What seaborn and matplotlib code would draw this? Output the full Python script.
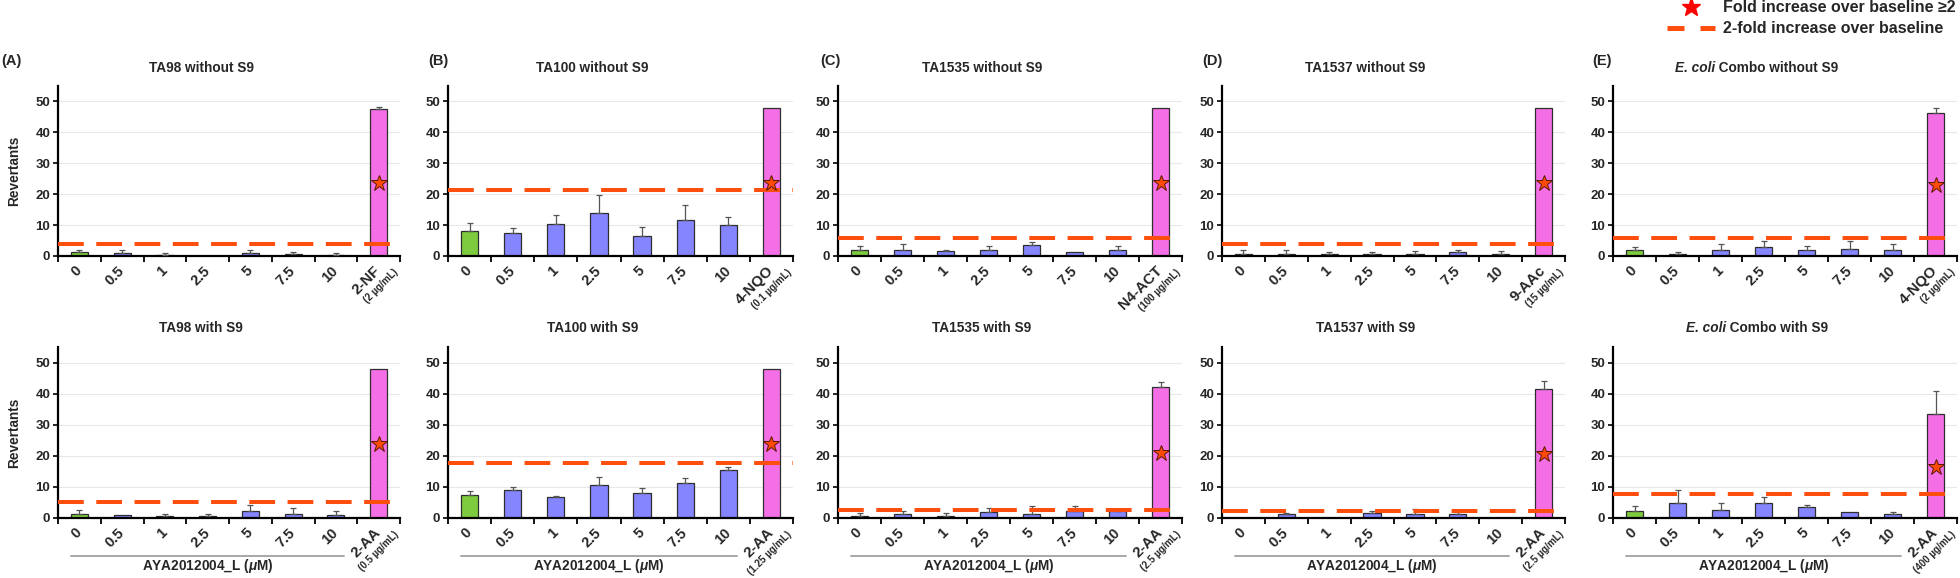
import numpy as np
import pandas as pd
import matplotlib
matplotlib.use("Agg")
import matplotlib.pyplot as plt
import matplotlib.transforms as mtransforms
from matplotlib.lines import Line2D
import seaborn as sns

# ---------------- data ----------------
doses = ["0", "0.5", "1", "2.5", "5", "7.5", "10"]

panel_letters = ["(A)", "(B)", "(C)", "(D)", "(E)"]
titles_top = ["TA98 without S9", "TA100 without S9", "TA1535 without S9",
              "TA1537 without S9", "E. coli Combo without S9"]
titles_bot = ["TA98 with S9", "TA100 with S9", "TA1535 with S9",
              "TA1537 with S9", "E. coli Combo with S9"]

pos_top = ["2-NF", "4-NQO", "N4-ACT", "9-AAc", "4-NQO"]
pos_top_conc = ["(2 µg/mL)", "(0.1 µg/mL)", "(100 µg/mL)", "(15 µg/mL)", "(2 µg/mL)"]
pos_bot = ["2-AA", "2-AA", "2-AA", "2-AA", "2-AA"]
pos_bot_conc = ["(0.5 µg/mL)", "(1.25 µg/mL)", "(2.5 µg/mL)", "(2.5 µg/mL)", "(400 µg/mL)"]

# mean revertants (7 doses + positive control) and upper error
ta98_without = [1.3, 0.9, 0.2, 0.0, 1.0, 0.6, 0.2, 47.5]
ta98_without_err = [0.8, 1.1, 0.7, 0.0, 1.1, 0.8, 0.7, 0.8]
ta100_without = [8.0, 7.4, 10.3, 14.0, 6.4, 11.6, 10.0, 48.0]
ta100_without_err = [2.6, 1.5, 2.9, 5.6, 3.0, 4.9, 2.5, 0.0]
ta1535_without = [1.8, 2.1, 1.5, 1.8, 3.4, 1.2, 2.1, 48.0]
ta1535_without_err = [1.3, 1.8, 0.4, 1.3, 1.1, 0.0, 1.0, 0.0]
ta1537_without = [0.8, 0.8, 0.5, 0.5, 0.8, 1.2, 0.8, 48.0]
ta1537_without_err = [1.1, 1.1, 0.8, 0.8, 0.7, 0.9, 0.7, 0.0]
ecoli_without = [1.8, 0.7, 1.8, 2.8, 2.0, 2.4, 2.0, 46.4]
ecoli_without_err = [1.1, 0.6, 2.1, 2.2, 1.1, 2.6, 1.9, 1.6]

ta98_with = [1.3, 1.1, 0.6, 0.6, 2.1, 1.4, 1.1, 48.0]
ta98_with_err = [1.3, 0.0, 0.8, 0.8, 2.2, 1.7, 1.0, 0.0]
ta100_with = [7.3, 8.9, 6.6, 10.6, 7.9, 11.3, 15.5, 48.0]
ta100_with_err = [1.5, 1.1, 0.6, 2.6, 1.9, 1.7, 0.8, 0.0]
ta1535_with = [0.6, 1.3, 0.6, 1.8, 1.3, 2.1, 2.3, 42.2]
ta1535_with_err = [0.9, 0.8, 0.9, 1.4, 2.5, 1.6, 0.6, 1.7]
ta1537_with = [0.0, 1.2, 0.0, 1.6, 1.2, 1.2, 0.0, 41.6]
ta1537_with_err = [0.0, 0.5, 0.0, 0.6, 1.8, 0.6, 0.0, 2.6]
ecoli_with = [2.1, 4.7, 2.7, 4.7, 3.6, 2.0, 1.4, 33.5]
ecoli_with_err = [1.6, 4.2, 2.1, 2.2, 0.7, 0.0, 0.6, 7.4]

# 2-fold-over-baseline thresholds and star heights
thr_top = [4.0, 21.3, 5.7, 3.9, 5.8]
thr_bot = [5.1, 17.6, 2.5, 2.1, 7.7]
star_top = [23.6, 23.7, 23.7, 23.7, 22.9]
star_bot = [23.8, 23.7, 20.9, 20.5, 16.5]

vals_top = [ta98_without, ta100_without, ta1535_without, ta1537_without, ecoli_without]
errs_top = [ta98_without_err, ta100_without_err, ta1535_without_err, ta1537_without_err, ecoli_without_err]
vals_bot = [ta98_with, ta100_with, ta1535_with, ta1537_with, ecoli_with]
errs_bot = [ta98_with_err, ta100_with_err, ta1535_with_err, ta1537_with_err, ecoli_with_err]

# ---------------- style ----------------
sns.set_theme(style="white")
plt.rcParams["font.family"] = ["Liberation Sans", "DejaVu Sans"]
plt.rcParams["font.weight"] = "bold"
plt.rcParams["mathtext.fontset"] = "custom"
plt.rcParams["mathtext.it"] = "Liberation Sans:italic:bold"
plt.rcParams["mathtext.rm"] = "Liberation Sans:bold"

GREEN = "#7ECB3F"
BLUE = "#8585FF"
PINK = "#F46FE6"
EDGE = "#2E2E2E"
ORANGE = "#FF4F0F"
STAR = "#FF4A0A"

W, H = 1960, 578
fig = plt.figure(figsize=(W / 100, H / 100), dpi=100)
fig.patch.set_facecolor("white")

col_x = [(58, 400), (448, 793), (838, 1182), (1222, 1565), (1613, 1957)]
row_y = [(86, 256), (347, 518)]
letter_x = [1, 428, 820, 1202, 1592]


def make_ax(c, r):
    x0, x1 = col_x[c]
    y0, y1 = row_y[r]
    return fig.add_axes([x0 / W, 1 - y1 / H, (x1 - x0) / W, (y1 - y0) / H])


renderer = fig.canvas.get_renderer()
TITLE_FS = 9.8


def put_title(ax, title, ypos):
    cx = 0.5 - 28 / 344
    if title.startswith("E. coli"):
        part1, part2 = "E. coli", title[len("E. coli"):]
        t1 = ax.text(0, ypos, part1, transform=ax.transAxes, fontsize=TITLE_FS,
                     fontweight="bold", fontstyle="italic", ha="left", va="center")
        t2 = ax.text(0, ypos, part2, transform=ax.transAxes, fontsize=TITLE_FS,
                     fontweight="bold", ha="left", va="center")
        axw = ax.get_window_extent(renderer).width
        w1 = t1.get_window_extent(renderer).width / axw
        w2 = t2.get_window_extent(renderer).width / axw
        x0 = cx - (w1 + w2) / 2
        t1.set_x(x0)
        t2.set_x(x0 + w1)
    else:
        ax.text(cx, ypos, title, transform=ax.transAxes, fontsize=TITLE_FS,
                fontweight="bold", ha="center", va="center")


def draw_panel(ax, vals, errs, thr, star, plabel, pconc, title, bottom):
    cats = doses + [plabel]
    df = pd.DataFrame({"cat": cats, "val": vals})
    pal = {c: BLUE for c in cats}
    pal[cats[0]] = GREEN
    pal[cats[-1]] = PINK
    sns.barplot(data=df, x="cat", y="val", hue="cat", order=cats, hue_order=cats,
                palette=pal, legend=False, width=0.4, errorbar=None,
                edgecolor=EDGE, linewidth=0.9, saturation=1, ax=ax)
    x = np.arange(len(cats))
    v = np.asarray(vals, float)
    e = np.asarray(errs, float)
    m = e > 0
    ax.errorbar(x[m], v[m], yerr=[np.zeros(m.sum()), e[m]], fmt="none",
                ecolor="#555555", elinewidth=0.9, capsize=2.2, capthick=0.9, zorder=3)
    ax.axhline(thr, color=ORANGE, lw=2.9, dashes=(6.4, 3.1), zorder=4)
    ax.plot([x[-1]], [star], ls="none", marker="*", ms=12, mfc=STAR,
            mec="#5A1A00", mew=0.7, zorder=5)

    ax.set_xlim(-0.5, len(cats) - 0.5)
    ax.set_ylim(0, 55)
    ax.set_yticks([0, 10, 20, 30, 40, 50])
    ax.set_xlabel("")
    ax.set_ylabel("")
    ax.grid(axis="y", color="#E8E8E8", lw=0.8)
    ax.grid(axis="x", visible=False)
    ax.set_axisbelow(True)
    for s in ["top", "right"]:
        ax.spines[s].set_visible(False)
    for s in ["left", "bottom"]:
        ax.spines[s].set_color("black")
        ax.spines[s].set_linewidth(1.6)
    ax.set_xticks(x)
    ax.set_xticks(np.arange(-0.5, len(cats), 1.0), minor=True)
    ax.tick_params(axis="x", which="major", length=0, pad=9)
    ax.tick_params(axis="x", which="minor", length=4, width=1.3, color="black",
                   direction="out", bottom=True)
    ax.tick_params(axis="y", which="major", length=3.5, width=1.2, color="black",
                   direction="out", left=True, labelsize=9.5, pad=2)
    for lbl in ax.get_yticklabels():
        lbl.set_fontweight("bold")
    ax.set_xticklabels(cats)
    for i, lbl in enumerate(ax.get_xticklabels()):
        lbl.set_rotation(45)
        lbl.set_ha("right")
        lbl.set_va("center")
        lbl.set_rotation_mode("anchor")
        lbl.set_fontweight("bold")
        lbl.set_fontsize(10.8 if i == len(cats) - 1 else 10.5)
    ax.annotate(pconc, xy=(x[-1], 0), xycoords=("data", "axes fraction"),
                xytext=(13.2, -10.4), textcoords="offset points", rotation=45,
                rotation_mode="anchor", ha="right", va="center", fontsize=7.0,
                fontweight="bold", annotation_clip=False)
    put_title(ax, title, 1 + 18.5 / 171)
    if bottom:
        trans = mtransforms.blended_transform_factory(ax.transData, ax.transAxes)
        ax.plot([-0.2, len(doses) - 0.8], [-0.222, -0.222], transform=trans,
                clip_on=False, color="#A0A0A0", lw=1.3)
        ax.text((len(doses) - 1) / 2, -0.28, r"AYA2012004_L ($\mu$M)", transform=trans,
                ha="center", va="center", fontsize=9.8, fontweight="bold")


for c in range(5):
    axt = make_ax(c, 0)
    draw_panel(axt, vals_top[c], errs_top[c], thr_top[c], star_top[c],
               pos_top[c], pos_top_conc[c], titles_top[c], False)
    axb = make_ax(c, 1)
    draw_panel(axb, vals_bot[c], errs_bot[c], thr_bot[c], star_bot[c],
               pos_bot[c], pos_bot_conc[c], titles_bot[c], True)
    fig.text(letter_x[c] / W, 1 - 61 / H, panel_letters[c], ha="left", va="center",
             fontsize=10.5, fontweight="bold")
    if c == 0:
        for a in (axt, axb):
            a.text(-0.127, 0.5, "Revertants", transform=a.transAxes, rotation=90,
                   ha="center", va="center", fontsize=9.8, fontweight="bold")

handles = [Line2D([], [], ls="none", marker="*", ms=14, mfc="#FF0000", mec="#FF0000"),
           Line2D([], [], color=ORANGE, lw=3.6, dashes=(3.4, 3.2))]
labels = ["Fold increase over baseline ≥2", "2-fold increase over baseline"]
fig.legend(handles, labels, loc="upper right", bbox_to_anchor=(1956 / W, 1 - 0.5 / H),
           frameon=False, prop={"weight": "bold", "size": 11.5}, borderpad=0,
           borderaxespad=0, handlelength=3.0, handletextpad=0.5, labelspacing=0.35)

fig.savefig("out.png", dpi=100, facecolor="white")
